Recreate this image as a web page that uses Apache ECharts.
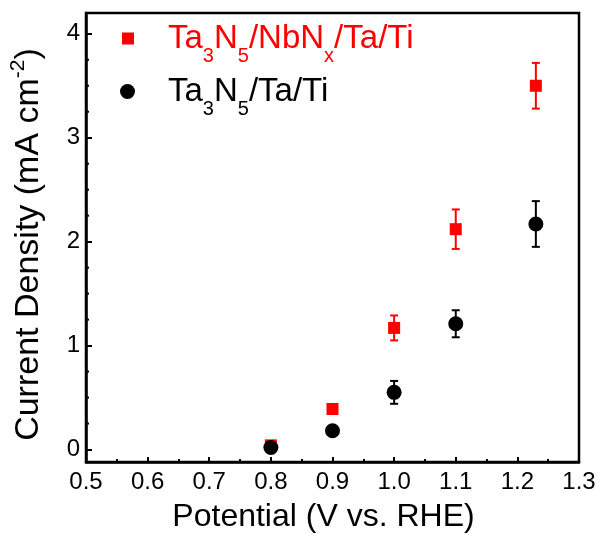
<!DOCTYPE html>
<html lang="en">
<head>
    <meta charset="UTF-8">
    <title>Current Density</title>
    <script src="https://cdn.jsdelivr.net/npm/echarts@6.0.0/dist/echarts.min.js"></script>
</head>
<body style="margin:0;background:#fff;">
<div id="main" style="width: 600px;height:539px;"></div>
<script type="text/javascript">
    // data
    var potential = [0.8, 0.9, 1.0, 1.1, 1.23];
    var nbnxValues = [0.04, 0.39, 1.17, 2.12, 3.50];
    var nbnxErrors = [0, 0, 0.12, 0.19, 0.22];
    var plainValues = [0.02, 0.18, 0.55, 1.21, 2.17];
    var plainErrors = [0, 0, 0.11, 0.13, 0.22];
    var yTicks = [0, 1, 2, 3, 4];
    var yMinorTicks = [0.25, 0.5, 0.75, 1.25, 1.5, 1.75, 2.25, 2.5, 2.75, 3.25, 3.5, 3.75];
    var nameNbnx = 'Ta3N5/NbNx/Ta/Ti';
    var namePlain = 'Ta3N5/Ta/Ti';

    var font = 'Liberation Sans, Arial, sans-serif';

    function pairs(xs, ys) {
        var out = [];
        for (var i = 0; i < xs.length; i++) out.push([xs[i], ys[i]]);
        return out;
    }
    function errData(xs, ys, es) {
        var out = [];
        for (var i = 0; i < xs.length; i++) {
            if (es[i] > 0) out.push([xs[i], ys[i] - es[i], ys[i] + es[i]]);
        }
        return out;
    }
    // draws one error bar with caps
    function errBar(color) {
        return function (params, api) {
            var lo = api.coord([api.value(0), api.value(1)]);
            var hi = api.coord([api.value(0), api.value(2)]);
            var cap = 4;
            var st = {stroke: color, lineWidth: 2};
            return {
                type: 'group',
                children: [
                    {type: 'line', shape: {x1: lo[0], y1: lo[1], x2: hi[0], y2: hi[1]}, style: st},
                    {type: 'line', shape: {x1: lo[0] - cap, y1: lo[1], x2: lo[0] + cap, y2: lo[1]}, style: st},
                    {type: 'line', shape: {x1: hi[0] - cap, y1: hi[1], x2: hi[0] + cap, y2: hi[1]}, style: st}
                ]
            };
        };
    }
    // short inward minor ticks on the left axis
    function minorTick(params, api) {
        var p = api.coord([0.5, api.value(0)]);
        return {
            type: 'line',
            shape: {x1: p[0], y1: p[1], x2: p[0] + 3, y2: p[1]},
            style: {stroke: '#000', lineWidth: 2}
        };
    }

    // subscripts sit below the baseline, like in the original
    var nStyle = {fontSize: 33, lineHeight: 55, fontFamily: font};
    var sStyle = {fontSize: 20, lineHeight: 20, verticalAlign: 'bottom', fontFamily: font};
    function legendLabel(name) {
        if (name === nameNbnx) {
            return '{g|}{n|Ta}{s|3}{n|N}{s|5}{n|/NbN}{s|x}{n|/Ta/Ti}';
        }
        return '{g|}{n|Ta}{s|3}{n|N}{s|5}{n|/Ta/Ti}';
    }

    var myChart = echarts.init(document.getElementById('main'));
    myChart.setOption({
        animation: false,
        backgroundColor: '#fff',
        grid: {
            left: 82, right: 21, top: 13, bottom: 77,
            show: true, borderColor: '#000', borderWidth: 2.5
        },
        legend: [
            {
                data: [nameNbnx], orient: 'vertical', left: 122, top: 22, padding: 0,
                itemWidth: 12, itemHeight: 12, formatter: legendLabel,
                textStyle: {color: '#ff0000', rich: {g: {width: 29}, n: nStyle, s: sStyle}}
            },
            {
                data: [namePlain], orient: 'vertical', left: 120, top: 75, padding: 0,
                itemWidth: 15, itemHeight: 15, formatter: legendLabel,
                textStyle: {color: '#000', rich: {g: {width: 28}, n: nStyle, s: sStyle}}
            }
        ],
        xAxis: {
            type: 'value', min: 0.5, max: 1.3, interval: 0.1,
            name: 'Potential (V vs. RHE)', nameLocation: 'middle', nameGap: 39,
            nameTextStyle: {fontSize: 32, color: '#000', fontFamily: font, padding: [0, 18, 0, 0]},
            axisLine: {onZero: false, lineStyle: {color: '#000', width: 2.5}},
            axisTick: {inside: true, length: 5, lineStyle: {color: '#000', width: 2}},
            minorTick: {show: true, splitNumber: 2, length: 3, lineStyle: {color: '#000', width: 2}},
            splitLine: {show: false},
            axisLabel: {
                fontSize: 24, color: '#000', fontFamily: font, margin: 8,
                formatter: function (v) { return v.toFixed(1); }
            }
        },
        yAxis: {
            type: 'value', min: -0.12, max: 4.2,
            name: '{t|Current Density (mA cm}{u|-2}{t|)}', nameLocation: 'middle', nameGap: 36,
            nameTextStyle: {
                color: '#000', padding: [0, 14, 0, 0],
                rich: {
                    t: {fontSize: 34, lineHeight: 42, fontFamily: font},
                    u: {fontSize: 21, lineHeight: 21, verticalAlign: 'top', fontFamily: font}
                }
            },
            axisLine: {onZero: false, lineStyle: {color: '#000', width: 2.5}},
            axisTick: {inside: true, length: 6, customValues: yTicks, lineStyle: {color: '#000', width: 2}},
            splitLine: {show: false},
            axisLabel: {
                fontSize: 24, color: '#000', fontFamily: font, margin: 6,
                customValues: yTicks
            }
        },
        series: [
            {
                type: 'custom', renderItem: minorTick,
                data: yMinorTicks.map(function (v) { return [v]; }),
                encode: {y: 0}, silent: true, z: 1
            },
            {
                name: nameNbnx, type: 'scatter', symbol: 'rect', symbolSize: 12,
                itemStyle: {color: '#ff0000', opacity: 1},
                data: pairs(potential, nbnxValues), z: 3
            },
            {
                type: 'custom', renderItem: errBar('#ff0000'),
                data: errData(potential, nbnxValues, nbnxErrors),
                encode: {x: 0, y: [1, 2]}, z: 2
            },
            {
                type: 'custom', renderItem: errBar('#000'),
                data: errData(potential, plainValues, plainErrors),
                encode: {x: 0, y: [1, 2]}, z: 4
            },
            {
                name: namePlain, type: 'scatter', symbol: 'circle', symbolSize: 15,
                itemStyle: {color: '#000', opacity: 1},
                data: pairs(potential, plainValues), z: 5
            }
        ]
    });
</script>
</body>
</html>
